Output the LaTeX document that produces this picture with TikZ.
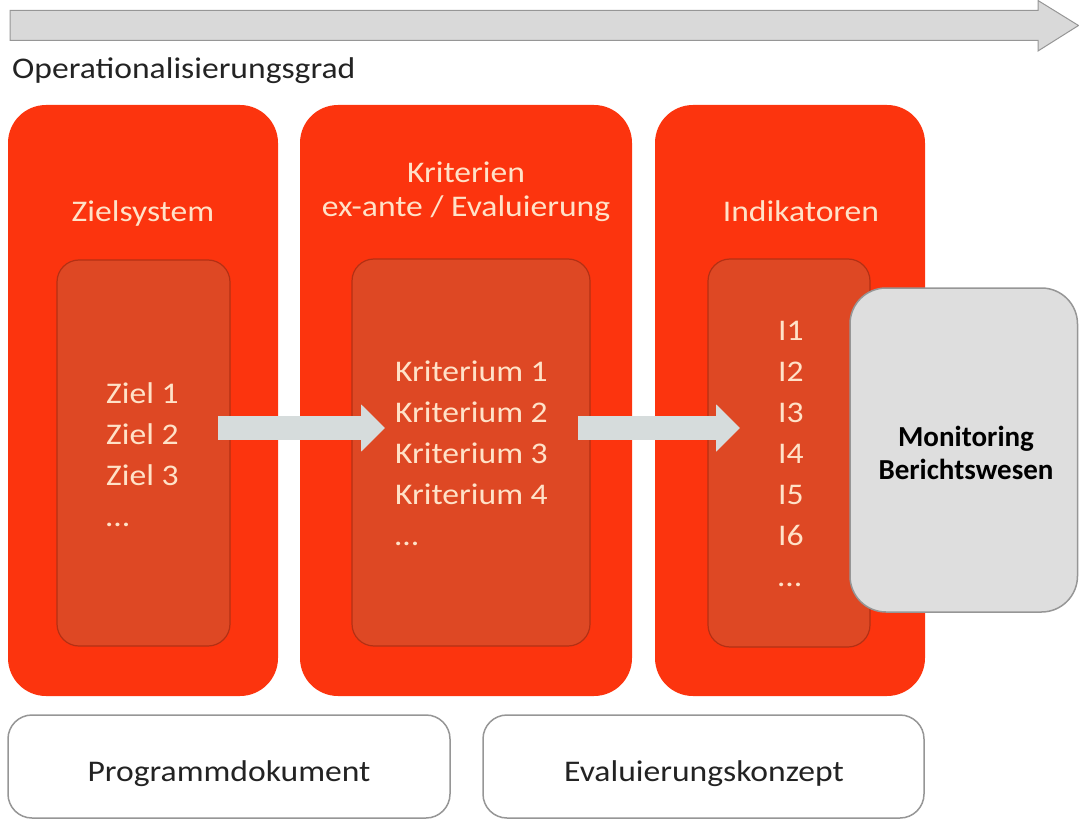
\documentclass[tikz,border=0pt]{standalone}
\usepackage{fontspec}
\setmainfont{Carlito}[FakeStretch=1.12]
\newfontfamily\boldfam{Carlito}[FakeStretch=1.0]
\usetikzlibrary{arrows.meta}
\definecolor{outerred}{RGB}{252,52,14}
\definecolor{innerred}{RGB}{222,72,36}
\definecolor{innerline}{RGB}{180,48,20}
\definecolor{peach}{RGB}{255,226,200}
\definecolor{arrowgray}{RGB}{214,220,220}
\definecolor{topgray}{RGB}{217,217,217}
\definecolor{edgegray}{RGB}{150,150,150}
\definecolor{boxgray}{RGB}{222,222,222}
\definecolor{darktext}{RGB}{35,35,35}
\begin{document}
\begin{tikzpicture}[x=1pt,y=-1pt,
  outerbox/.style={fill=outerred, rounded corners=38pt},
  innerbox/.style={fill=innerred, draw=innerline, line width=1.2pt, rounded corners=22pt},
  titletext/.style={text=peach, font=\fontsize{30}{34}\selectfont, anchor=base, inner sep=0},
  listtext/.style={text=peach, font=\fontsize{30}{34}\selectfont, anchor=base west, inner sep=0},
  docbox/.style={draw=edgegray, fill=white, line width=1.5pt, rounded corners=24pt},
  doctext/.style={text=darktext, font=\fontsize{30}{34}\selectfont, anchor=base, inner sep=0},
  grayarrow/.style={draw=arrowgray, line width=24pt, -{Triangle[width=46pt,length=24pt]}},
]
\useasboundingbox (0,0) rectangle (1079,821);

% top arrow
\path[fill=topgray, draw=edgegray, line width=1pt]
  (10,10.5) -- (1038,10.5) -- (1038,0.5) -- (1078.5,25.5) -- (1038,51) -- (1038,40.5) -- (10,40.5) -- cycle;
\node[anchor=base west, inner sep=0, text=darktext, font=\fontsize{30}{34}\selectfont] (grad) at (12,79) {Operationalisierungsgrad};

% outer red boxes
\path[outerbox] (8,105) rectangle (278,696);
\path[outerbox] (300,105) rectangle (632,696);
\path[outerbox] (655,105) rectangle (925,696);
\node[titletext] (t1) at (143,222) {Zielsystem};
\node[titletext] (t2a) at (466,183) {Kriterien};
\node[titletext] (t2b) at (466,217) {ex-ante / Evaluierung};
\node[titletext] (t3) at (801,222) {Indikatoren};

% inner boxes
\path[innerbox] (57,260) rectangle (230,646);
\path[innerbox] (352,259) rectangle (590,646);
\path[innerbox] (708,259) rectangle (870,647);

% lists
\foreach \t [count=\i] in {Ziel 1,Ziel 2,Ziel 3,…}
  \node[listtext] (z\i) at (106,362+41*\i) {\t};
\foreach \t [count=\i] in {Kriterium 1,Kriterium 2,Kriterium 3,Kriterium 4,…}
  \node[listtext] (k\i) at (395,340+41*\i) {\t};
\foreach \t [count=\i] in {I1,I2,I3,I4,I5,I6,…}
  \node[listtext] (i\i) at (778,299.5+41*\i) {\t};

% gray arrows
\coordinate (a1s) at (218,428);
\coordinate (a1e) at (385,428);
\coordinate (a2s) at (578,428);
\coordinate (a2e) at (740,428);
\draw[grayarrow] (a1s) -- (a1e);
\draw[grayarrow] (a2s) -- (a2e);

% monitoring box
\path[fill=boxgray, draw=edgegray, line width=1.5pt, rounded corners=36pt] (850,288) rectangle (1077.5,612);
\node[font=\boldfam\bfseries\fontsize{29}{33}\selectfont, text=black, anchor=base, inner sep=0] (mon1) at (966,446) {Monitoring};
\node[font=\boldfam\bfseries\fontsize{29}{33}\selectfont, text=black, anchor=base, inner sep=0] (mon2) at (966,479) {Berichtswesen};

% bottom boxes
\path[docbox] (8,715) rectangle (450,818);
\path[docbox] (483,715) rectangle (924,818);
\node[doctext] (doc1) at (229,781) {Programmdokument};
\node[doctext] (doc2) at (704,781) {Evaluierungskonzept};
\end{tikzpicture}
\end{document}
